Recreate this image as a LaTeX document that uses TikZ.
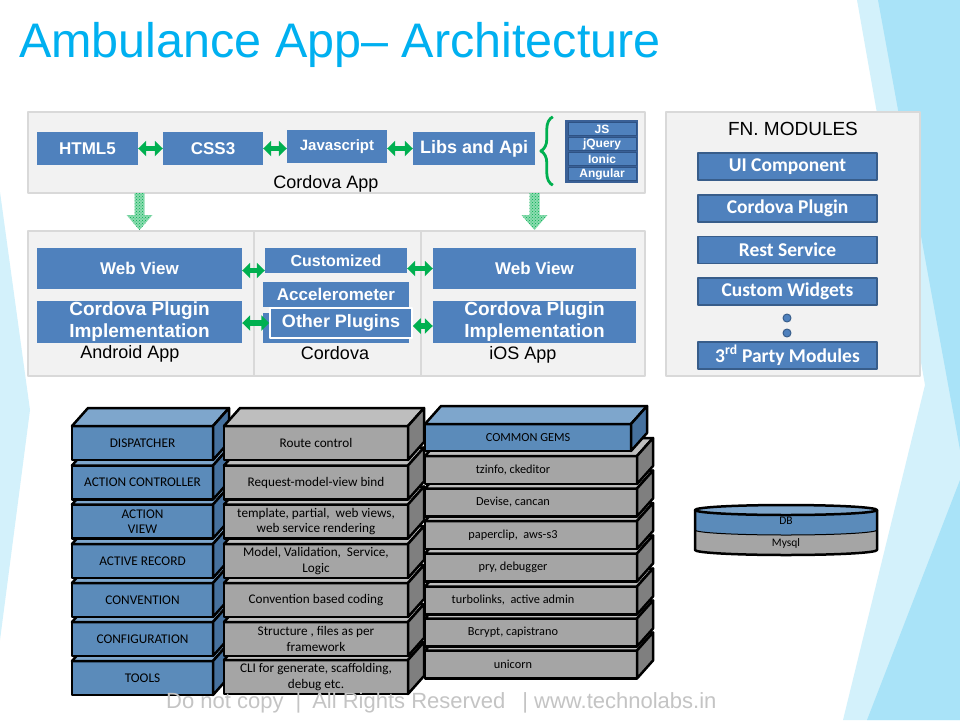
\documentclass[tikz,border=0pt]{standalone}
\usepackage{fontspec}
\setmainfont{Liberation Sans}
\newfontfamily\calfont{Carlito}
\usetikzlibrary{arrows.meta,patterns,decorations.pathreplacing}

\definecolor{ttlblue}{HTML}{00B0F0}
\definecolor{boxblue}{HTML}{4F81BD}
\definecolor{boxedge}{HTML}{385D8A}
\definecolor{tinyedge}{HTML}{2E5284}
\definecolor{framblue}{HTML}{3A6096}
\definecolor{arrgreen}{HTML}{00B050}
\definecolor{panelfill}{HTML}{F2F2F2}
\definecolor{paneledge}{HTML}{D9D9D9}
\definecolor{sbfront}{HTML}{5B8BBA}
\definecolor{sbtop}{HTML}{7EA6CC}
\definecolor{sbside}{HTML}{46719E}
\definecolor{sgfront}{HTML}{A5A5A5}
\definecolor{sgtop}{HTML}{BEBEBE}
\definecolor{sgside}{HTML}{7F7F7F}
\definecolor{bglight}{HTML}{D3F1FB}
\definecolor{bgmid}{HTML}{A9E3F8}
\definecolor{footgray}{HTML}{C4C4C4}

\tikzset{
  panel/.style={draw=paneledge, line width=2.5pt, fill=panelfill, inner sep=0pt, outer sep=0pt},
  bluebox/.style={fill=boxblue, text=white, inner sep=0pt, align=center,
    font=\bfseries\fontsize{#1}{#1}\selectfont},
  bluebox/.default=17,
  fnbox/.style={fill=boxblue, draw=boxedge, line width=1.8pt, text=white, minimum width=179,
    minimum height=27, inner sep=0pt, font=\calfont\bfseries\fontsize{19.5}{21}\selectfont},
  tinybox/.style={fill=boxblue, draw=tinyedge, line width=0.6pt, text=white, minimum width=68,
    minimum height=13, inner sep=0pt, font=\bfseries\fontsize{12}{13}\selectfont},
  garrow/.style={draw=arrgreen, line width=5.5pt, {Triangle[width=15pt,length=8pt]}-{Triangle[width=15pt,length=8pt]}},
  dotarrow/.style={fill=arrgreen!45!white, postaction={pattern=crosshatch dots, pattern color=arrgreen}},
  plainlabel/.style={inner sep=0pt, font=\fontsize{18}{20}\selectfont},
  bluefront/.style={fill=sbfront, draw=black, line width=2.5pt, outer sep=0pt, inner sep=0pt,
    align=center, font=\calfont\fontsize{13.3}{15.5}\selectfont},
  bluetop/.style={fill=sbtop, draw=black, line width=2.5pt},
  blueside/.style={fill=sbside, draw=black, line width=2.5pt},
  grayfront/.style={bluefront, fill=sgfront, font=\calfont\fontsize{13.2}{15.5}\selectfont},
  graytop/.style={bluetop, fill=sgtop},
  grayside/.style={blueside, fill=sgside},
  gemfront/.style={grayfront, font=\calfont\fontsize{12.3}{14}\selectfont,
    execute at end node={\hspace*{36pt}}},
  gemtop/.style={graytop},
  gemside/.style={grayside},
  gemheadfront/.style={bluefront, font=\calfont\fontsize{12.3}{14}\selectfont},
  gemheadtop/.style={bluetop},
  gemheadside/.style={blueside},
  dblabel/.style={inner sep=0pt, font=\calfont\fontsize{11.5}{13}\selectfont}
}

% one 3d layer of the stack: name, x, y, width, height, kind, text
\newcommand{\slab}[7]{%
  \node[#6front, minimum width=#4, minimum height=#5] (#1) at (#2,#3) {#7};
  \filldraw[#6top] (#1.north west) -- ++(16,-18) -- ++(#4,0) -- (#1.north east) -- cycle;
  \filldraw[#6side] (#1.north east) -- ++(16,-18) -- ++(0,#5) -- (#1.south east) -- cycle;
}
% fat dotted arrow pointing down
\newcommand{\dotdown}[1]{%
  \fill[dotarrow] (#1) ++(-5,0) -- ++(10,0) -- ++(0,22) -- ++(8,0) -- ++(-13,15) -- ++(-13,-15) -- ++(8,0) -- cycle;
}

\begin{document}
\begin{tikzpicture}[x=1pt,y=-1pt,line join=round]
\useasboundingbox (0,0) rectangle (960,720);
\fill[white] (0,0) rectangle (960,720);

% background facets
\fill[bglight] (857,0) -- (960,0) -- (960,720) -- (843,720) -- (925,385) -- cycle;
\fill[bgmid] (878,0) -- (960,0) -- (960,450) -- cycle;
\fill[bgmid] (867,720) -- (960,480) -- (960,720) -- cycle;
\fill[bglight] (0,192) -- (30,410) -- (0,640) -- cycle;

% title
\node[anchor=base west, inner sep=0pt, text=ttlblue, font=\fontsize{48.5}{51}\selectfont] (title) at (19,57) {Ambulance App– Architecture};

% cordova app
\node[panel, minimum width=617, minimum height=81] (cordapp) at (336.5,152.5) {};
\node[plainlabel] (cordapplbl) at (326,184) {Cordova App};
\node[bluebox=17, minimum width=101, minimum height=33] (html) at (87.5,148.5) {HTML5};
\node[bluebox=17, minimum width=100, minimum height=33] (css) at (213,148.5) {CSS3};
\node[bluebox=15, minimum width=100, minimum height=33] (js) at (337,146.5) {Javascript};
\node[bluebox=18, minimum width=122, minimum height=33] (libs) at (474,148.5) {Libs and Api};
\draw[garrow] (html) -- (css);
\draw[garrow] (css) -- (css -| js.west);
\draw[garrow] (js.east |- css) -- (libs);

\node[fill=framblue, minimum width=73, minimum height=63, inner sep=0pt] (jsframe) at (601.5,151.5) {};
\node[tinybox] (tjs) at (602,129) {JS};
\node[tinybox] (tjq) at (602,144) {jQuery};
\node[tinybox] (tion) at (602,159) {Ionic};
\node[tinybox] (tang) at (602,174) {Angular};
\draw[arrgreen, line width=2.8pt, decorate, decoration={brace, amplitude=12pt}]
  ([xshift=-12,yshift=-2]jsframe.south west) -- ([xshift=-12,yshift=3]jsframe.north west);

% platforms
\node[panel, minimum width=617, minimum height=145] (platforms) at (336.5,303.5) {};
\draw[paneledge, line width=2.5pt] (254,231) -- (254,376);
\draw[paneledge, line width=2.5pt] (421,231) -- (421,376);
\node[bluebox=17, minimum width=205, minimum height=41] (lweb) at (139.5,268.5) {Web View};
\node[bluebox=19, minimum width=205, minimum height=42] (lplug) at (139.5,322) {Cordova Plugin\\[3pt]Implementation};
\node[plainlabel] (android) at (130,354) {Android App};
\node[bluebox=16, minimum width=142, minimum height=25] (cust) at (336,260.5) {Customized};
\node[bluebox=17, minimum width=146, minimum height=25] (accel) at (336,294.5) {Accelerometer};
\node[bluebox, minimum width=146, minimum height=30] (othback) at (336,328) {};
\node[bluebox=18, draw=white, line width=1.5pt, minimum width=142, minimum height=30] (oth) at (341,323) {Other Plugins};
\node[plainlabel] (cordova) at (335,353) {Cordova};
\node[bluebox=17, minimum width=203, minimum height=41] (rweb) at (534.5,268.5) {Web View};
\node[bluebox=19, minimum width=203, minimum height=42] (rplug) at (534.5,322) {Cordova Plugin\\[3pt]Implementation};
\node[plainlabel] (ios) at (523,355) {iOS App};
\draw[garrow] ([yshift=-2]lweb.east) -- ([yshift=-2]lweb.east -| cust.west);
\draw[garrow] (cust.east |- rweb.west) -- (rweb.west);
\draw[garrow] (lplug.east |- oth.west) -- (oth.west);
\draw[garrow] ([yshift=-3]oth.east) -- ([yshift=-3]oth.east -| rplug.west);

\coordinate (ldrop) at (cordapp.south -| lweb.north);
\coordinate (rdrop) at (cordapp.south -| rweb.north);
\dotdown{ldrop}
\dotdown{rdrop}

% functional modules
\node[panel, minimum width=254, minimum height=264] (fnpanel) at (793,244) {};
\node[inner sep=0pt, font=\fontsize{19}{21}\selectfont] (fntitle) at (793,129) {FN. MODULES};
\node[fnbox] (fnui) at (787.5,166.5) {UI Component};
\node[fnbox] (fnplug) at (787.5,208.5) {Cordova Plugin};
\node[fnbox] (fnrest) at (787.5,250) {Rest Service};
\node[fnbox] (fnwid) at (787.5,291.5) {Custom Widgets};
\node[circle, fill=boxblue, draw=boxedge, line width=1pt, minimum size=8, inner sep=0pt] (fndot1) at (787,318) {};
\node[circle, fill=boxblue, draw=boxedge, line width=1pt, minimum size=8, inner sep=0pt] (fndot2) at (787,333) {};
\node[fnbox] (fnthird) at (787.5,355.5) {3\textsuperscript{rd} Party Modules};

% rails stack, left column
\slab{tools}{142.5}{678}{141}{34}{blue}{TOOLS}
\slab{config}{142.5}{639}{141}{34}{blue}{CONFIGURATION}
\slab{conv}{142.5}{600}{141}{34}{blue}{CONVENTION}
\slab{arec}{142.5}{561}{141}{34}{blue}{ACTIVE RECORD}
\slab{aview}{142.5}{521.5}{141}{34}{blue}{ACTION\\VIEW}
\slab{actl}{142.5}{482.5}{141}{34}{blue}{ACTION CONTROLLER}
\slab{disp}{142.5}{443}{141}{34}{blue}{DISPATCHER}
% middle column
\slab{toolsd}{316}{677}{184}{34}{gray}{CLI for generate, scaffolding,\\debug etc.}
\slab{configd}{316}{639}{184}{34}{gray}{Structure , files as per\\framework}
\slab{convd}{316}{600}{184}{34}{gray}{Convention based coding}
\slab{arecd}{316}{561}{184}{34}{gray}{Model, Validation,\ \ Service,\\Logic}
\slab{aviewd}{316}{521.5}{184}{34}{gray}{template, partial,\ \ web views,\\web service rendering}
\slab{actld}{316}{482.5}{184}{34}{gray}{Request-model-view bind}
\slab{dispd}{316}{443}{184}{34}{gray}{Route control}
% gems column
\slab{unicorn}{531}{664.5}{212}{28}{gem}{unicorn}
\slab{bcrypt}{531}{632.5}{212}{28}{gem}{Bcrypt, capistrano}
\slab{turbo}{531}{600.5}{212}{28}{gem}{turbolinks,\ \ active admin}
\slab{pry}{531}{567.5}{212}{28}{gem}{pry, debugger}
\slab{paper}{531}{535}{212}{28}{gem}{paperclip,\ \ aws-s3}
\slab{devise}{531}{502.5}{212}{28}{gem}{Devise, cancan}
\slab{tzinfo}{531}{470}{212}{28}{gem}{tzinfo, ckeditor}
\slab{gems}{528}{437.5}{206}{27}{gemhead}{COMMON GEMS}

% database
\fill[sbfront] (695,510) -- (695,530) arc[start angle=180, end angle=0, x radius=91, y radius=5] -- (877,510) -- cycle;
\fill[sgfront] (695,530) arc[start angle=180, end angle=0, x radius=91, y radius=5] -- (877,550) arc[start angle=0, end angle=180, x radius=91, y radius=5] -- cycle;
\draw[line width=1pt] (695,530) arc[start angle=180, end angle=0, x radius=91, y radius=5];
\draw[line width=2.5pt] (695,510) -- (695,550) arc[start angle=180, end angle=0, x radius=91, y radius=5] -- (877,510);
\filldraw[fill=sbtop, line width=2.5pt] (786,510) ellipse [x radius=91, y radius=5];
\node[dblabel] (db) at (786,521) {DB};
\node[dblabel] (mysql) at (786,543) {Mysql};

% footer
\node[anchor=west, inner sep=0pt, text=footgray, font=\fontsize{22}{24}\selectfont] (footer) at (166,703)
  {Do not copy\hspace{12pt}|\hspace{11pt}All Rights Reserved\hspace{17pt}|\hspace{6pt}www.technolabs.in};
\end{tikzpicture}
\end{document}
